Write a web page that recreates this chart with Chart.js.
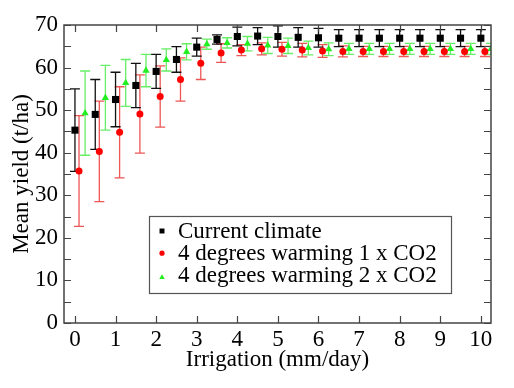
<!DOCTYPE html>
<html><head><meta charset="utf-8">
<script src="https://cdn.jsdelivr.net/npm/chart.js@4/dist/chart.umd.min.js"></script>
<style>html,body{margin:0;padding:0;background:#fff}canvas{display:block}</style>
</head><body>
<canvas id="c" width="514" height="388"></canvas>
<script>
// ---- data ----
const xCurrent = [0,0.5,1,1.5,2,2.5,3,3.5,4,4.5,5,5.5,6,6.5,7,7.5,8,8.5,9,9.5,10];
const yCurrent = [45.3,49.0,52.5,55.8,59.1,61.9,64.8,66.6,67.3,67.4,67.3,67.1,67.0,66.9,66.9,66.9,66.9,66.9,66.9,66.9,66.9];
const eCurrent = [9.7,8.2,6.4,5.2,4.0,3.0,2.1,1.1,2.2,2.0,2.5,2.3,2.2,2.0,2.0,2.0,2.0,2.0,2.0,2.0,2.0];

const xWarm1 = [0.1,0.6,1.1,1.6,2.1,2.6,3.1,3.6,4.1,4.6,5.1,5.6,6.1,6.6,7.1,7.6,8.1,8.6,9.1,9.6,10.1];
const yWarm1 = [35.7,40.3,44.8,49.1,53.2,57.2,61.0,63.4,64.1,64.4,64.3,64.1,63.9,63.8,63.8,63.8,63.8,63.8,63.8,63.8,63.8];
const eWarm1 = [13.0,11.8,10.7,9.2,7.2,5.1,3.8,2.2,1.3,1.4,1.6,1.6,1.5,1.3,1.2,1.2,1.2,1.2,1.2,1.2,1.2];

const xWarm2 = [0.25,0.75,1.25,1.75,2.25,2.75,3.25,3.75,4.25,4.75,5.25,5.75,6.25,6.75,7.25,7.75,8.25,8.75,9.25,9.75,10.25];
const yWarm2 = [49.3,52.9,56.4,59.3,61.8,63.7,65.5,65.8,65.6,65.2,65.1,64.6,64.3,64.4,64.4,64.4,64.4,64.4,64.4,64.4,64.4];
const eWarm2 = [9.9,7.6,5.5,3.8,2.6,1.9,1.2,1.2,1.7,1.9,1.8,1.6,1.5,1.3,1.3,1.3,1.3,1.3,1.3,1.3,1.3];

const seriesLabels = ['Current climate','4 degrees warming 1 x CO2','4 degrees warming 2 x CO2'];
const xTickValues = [0,1,2,3,4,5,6,7,8,9,10];
const yTickValues = [0,10,20,30,40,50,60,70];
const yMinorValues = [5,15,25,35,45,55,65];
const xTitle = 'Irrigation (mm/day)';
const yTitle = 'Mean yield (t/ha)';

// ---- build ----
const FONT = 'Liberation Serif';
function pts(xs, ys, es){ return xs.map((x,i)=>({x:x, y:ys[i], e:es[i]})); }

const errorBars = {
  id:'errorBars',
  beforeDatasetsDraw(chart){
    const {ctx, chartArea:a, scales:{x,y}} = chart;
    ctx.save();
    ctx.beginPath(); ctx.rect(a.left,a.top,a.right-a.left,a.bottom-a.top); ctx.clip();
    for (let i = chart.data.datasets.length-1; i>=0; i--){
      const ds = chart.data.datasets[i];
      ctx.strokeStyle = ds.errColor; ctx.lineWidth = 1.3;
      ds.data.forEach(p=>{
        const px = x.getPixelForValue(p.x);
        const y1 = y.getPixelForValue(p.y+p.e), y2 = y.getPixelForValue(p.y-p.e);
        ctx.beginPath();
        ctx.moveTo(px,y1); ctx.lineTo(px,y2);
        ctx.moveTo(px-5,y1); ctx.lineTo(px+5,y1);
        ctx.moveTo(px-5,y2); ctx.lineTo(px+5,y2);
        ctx.stroke();
      });
    }
    ctx.restore();
  }
};

const frame = {
  id:'frame',
  afterDatasetsDraw(chart){
    const {ctx, chartArea:a, scales:{x,y}} = chart;
    ctx.save();
    ctx.strokeStyle = '#444'; ctx.lineWidth = 1.5;
    ctx.strokeRect(a.left, a.top, a.right-a.left, a.bottom-a.top);
    ctx.lineWidth = 1.2;
    const L = 7;
    ctx.beginPath();
    xTickValues.forEach(v=>{
      const px = Math.round(x.getPixelForValue(v))+0.5;
      ctx.moveTo(px,a.bottom); ctx.lineTo(px,a.bottom-L);
      ctx.moveTo(px,a.top); ctx.lineTo(px,a.top+L);
    });
    yTickValues.concat(yMinorValues).forEach(v=>{
      const py = Math.round(y.getPixelForValue(v))+0.5;
      ctx.moveTo(a.left,py); ctx.lineTo(a.left+L,py);
      ctx.moveTo(a.right,py); ctx.lineTo(a.right-L,py);
    });
    ctx.stroke();

    // legend
    const bx=149.5, by=216.5, bw=302, bh=77;
    ctx.fillStyle='#fff'; ctx.fillRect(bx,by,bw,bh);
    ctx.strokeStyle='#555'; ctx.lineWidth=1.2; ctx.strokeRect(bx,by,bw,bh);
    ctx.font = '23px "'+FONT+'"';
    ctx.textBaseline='alphabetic'; ctx.textAlign='left';
    chart.data.datasets.forEach((ds,i)=>{
      const base = 237.5 + i*22.2;
      ctx.fillStyle = ds.backgroundColor; ctx.strokeStyle = ds.backgroundColor; ctx.lineWidth = 0;
      const my = i===2 ? base-4.5 : base-6.5;
      Chart.helpers.drawPoint(ctx, {pointStyle: ds.pointStyle, radius: ds.legendRadius, borderWidth:0}, 162, my);
      ctx.fillStyle='#000';
      ctx.fillText(ds.label, 178, base);
    });
    ctx.restore();
  }
};

const tickFont = {family: FONT, size: 23};
const titleFont = {family: FONT, size: 23};

new Chart(document.getElementById('c'), {
  type:'scatter',
  data:{datasets:[
    {label:seriesLabels[0], data:pts(xCurrent,yCurrent,eCurrent), pointStyle:'rect', pointRadius:5, legendRadius:3.5,
     backgroundColor:'#000', borderColor:'#000', borderWidth:0, errColor:'#111', clip:0},
    {label:seriesLabels[1], data:pts(xWarm1,yWarm1,eWarm1), pointStyle:'circle', pointRadius:3.5, legendRadius:2.6,
     backgroundColor:'#ff0000', borderColor:'#ff0000', borderWidth:0, errColor:'#ee5555', clip:0},
    {label:seriesLabels[2], data:pts(xWarm2,yWarm2,eWarm2), pointStyle:'triangle', pointRadius:4.2, legendRadius:3.2,
     backgroundColor:'#22ee22', borderColor:'#22ee22', borderWidth:0, errColor:'#66ee66', clip:0}
  ]},
  options:{
    responsive:false, animation:false, devicePixelRatio:1,
    layout:{padding:{top:25, right:23, left:0, bottom:0}},
    plugins:{legend:{display:false}, tooltip:{enabled:false}},
    scales:{
      x:{type:'linear', min:-0.27, max:10.25,
         grid:{display:false, drawTicks:false}, border:{display:false},
         afterBuildTicks: s=>{ s.ticks = xTickValues.map(v=>({value:v})); },
         afterFit: s=>{ s.height = 65; },
         ticks:{font:tickFont, color:'#000', padding:3, maxRotation:0, autoSkip:false},
         title:{display:true, text:xTitle, font:titleFont, color:'#000', padding:{top:0, bottom:14}}},
      y:{type:'linear', min:0, max:70,
         grid:{display:false, drawTicks:false}, border:{display:false},
         afterBuildTicks: s=>{ s.ticks = yTickValues.map(v=>({value:v})); },
         afterFit: s=>{ s.width = 64; },
         ticks:{font:tickFont, color:'#000', padding:6},
         title:{display:true, text:yTitle, font:titleFont, color:'#000', padding:{top:8, bottom:0}}}
    }
  },
  plugins:[errorBars, frame]
});
</script>
</body></html>
